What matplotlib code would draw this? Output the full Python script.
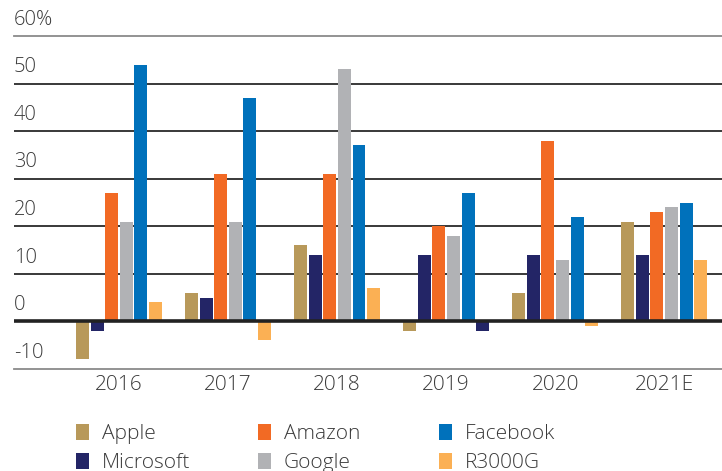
import matplotlib
matplotlib.use("Agg")
import matplotlib.pyplot as plt
import matplotlib.transforms as mtransforms
import numpy as np

years = ["2016", "2017", "2018", "2019", "2020", "2021E"]
series_names = ["Apple", "Microsoft", "Amazon", "Google", "Facebook", "R3000G"]
apple = [-8, 6, 16, -2, 6, 21]
microsoft = [-2, 5, 14, 14, 14, 14]
amazon = [27, 31, 31, 20, 38, 23]
google = [21, 21, 53, 18, 13, 24]
facebook = [54, 47, 37, 27, 22, 25]
r3000g = [4, -4, 7, -2, -1, 13]
colors = ["#B8995A", "#232566", "#F26A24", "#B1B2B5", "#0071BB", "#FBB054"]
ytick_vals = [-10, 0, 10, 20, 30, 40, 50, 60]
ytick_labels = ["-10", "0", "10", "20", "30", "40", "50", "60%"]

plt.rcParams["font.family"] = ["Open Sans", "DejaVu Sans"]
plt.rcParams["font.weight"] = "light"
TXT = "#3a3a3a"
W, H = 722, 471
fig = plt.figure(figsize=(W / 100, H / 100), dpi=100)
ax = fig.add_axes([14 / W, (H - 369) / H, 1 - 14 / W, (369 - 36) / H])

data = [apple, microsoft, amazon, google, facebook, r3000g]
x = np.arange(len(years))
pitch = 0.134
width = 0.119
handles = []
for i, (name, vals, c) in enumerate(zip(series_names, data, colors)):
    bars = ax.bar(x + (i - 2.5) * pitch, vals, width=width, color=c, label=name, zorder=3)
    handles.append(bars)
# In the reference the 2019 R3000G bar is drawn in the Microsoft navy
handles[5].patches[3].set_facecolor(colors[1])

ax.set_xlim(-0.963, 5.53)
ax.set_ylim(-10, 60)
for s in ax.spines.values():
    s.set_visible(False)
ax.set_yticks([])
for v in ytick_vals:
    if v == 0:
        ax.axhline(v, color="#222222", lw=2.6, zorder=4)
    elif v in (-10, 60):
        ax.axhline(v, color="#8a8a8a", lw=1.3, zorder=1, clip_on=False)
    else:
        ax.axhline(v, color="#2a2a2a", lw=1.3, zorder=1)
trans = mtransforms.blended_transform_factory(ax.transAxes, ax.transData)
offset = mtransforms.ScaledTranslation(0, 4.5 / 72, fig.dpi_scale_trans)
for v, lab in zip(ytick_vals, ytick_labels):
    ax.text(0, v, lab, transform=trans + offset, ha="left", va="bottom",
            fontsize=14.5, color=TXT, clip_on=False)

ax.set_xticks(x)
ax.set_xticklabels(years, fontsize=15, color=TXT)
ax.tick_params(axis="x", length=0, pad=4)

# Legend: three columns placed separately
col_x = [76, 258, 439]
for k in range(3):
    a, b = [0, 2, 4][k], [1, 3, 5][k]
    fig.legend(handles=[handles[a], handles[b]],
               labels=[series_names[a], series_names[b]],
               loc="upper left", bbox_to_anchor=(col_x[k] / W, 1 - 424 / H),
               frameon=False, fontsize=15, handlelength=0.64, handleheight=0.78,
               handletextpad=0.6, labelspacing=0.42, borderaxespad=0,
               borderpad=0, labelcolor=TXT)

fig.savefig("out.png", dpi=100)
